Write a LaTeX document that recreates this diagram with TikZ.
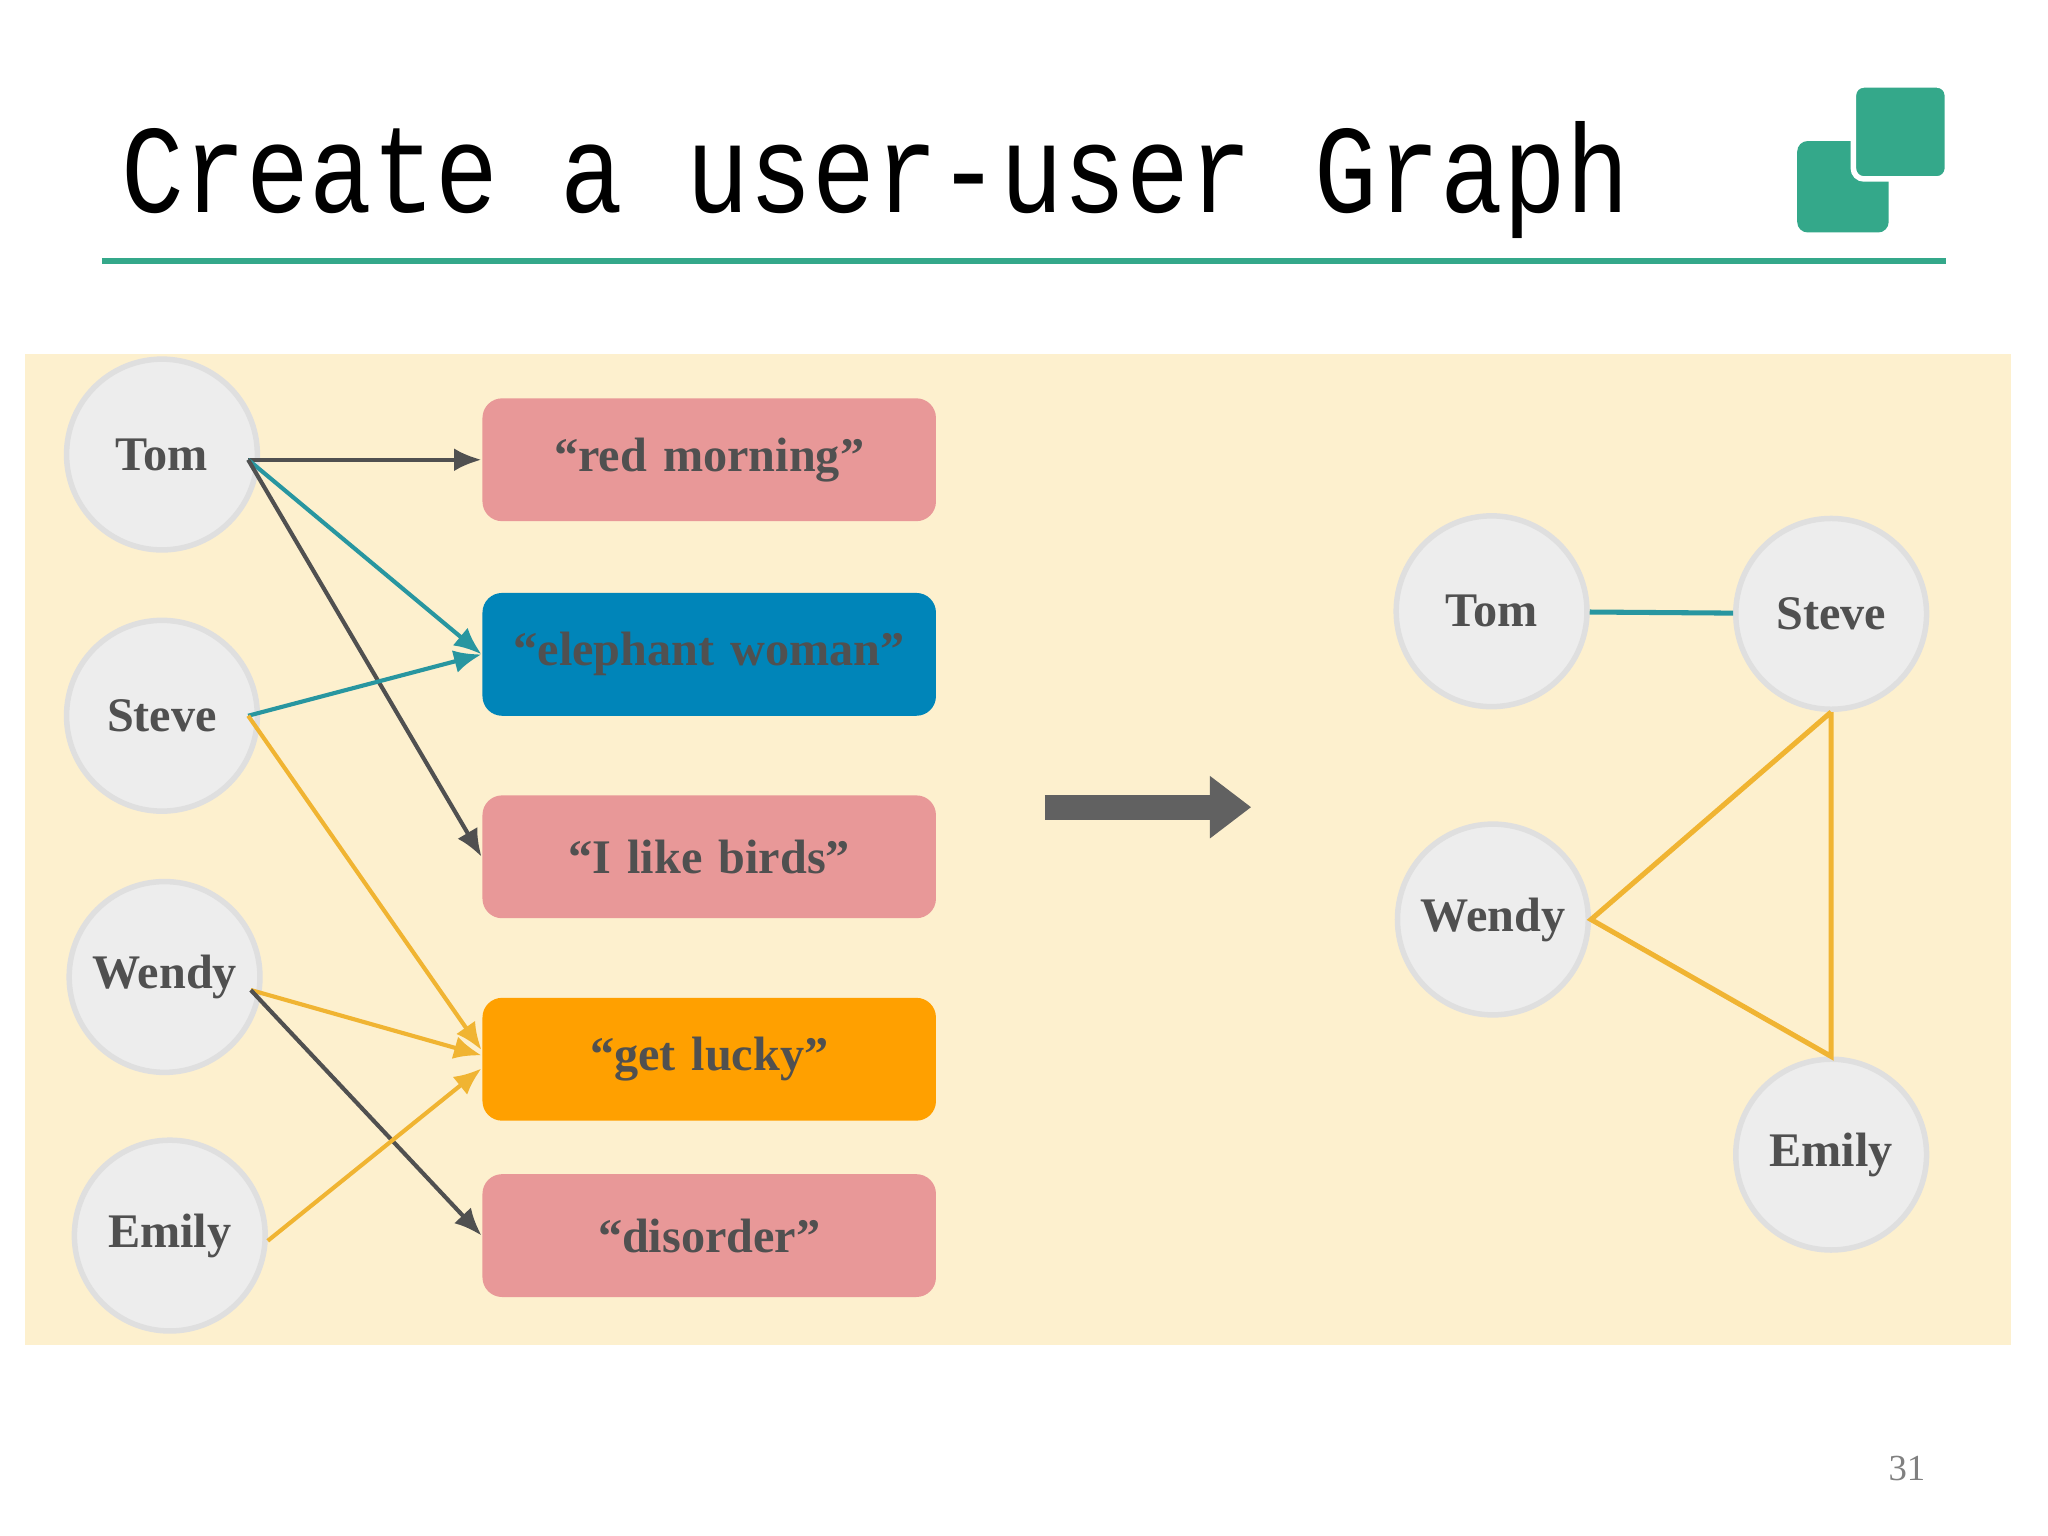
\documentclass[tikz,border=0pt]{standalone}
\usepackage{fontspec}
\setmainfont{Liberation Serif}
\newfontfamily\mono{Liberation Mono}
\usetikzlibrary{arrows.meta}
\definecolor{teal1}{RGB}{52,168,138}
\definecolor{panel}{RGB}{253,240,206}
\definecolor{pinkb}{RGB}{232,152,152}
\definecolor{blueb}{RGB}{0,133,185}
\definecolor{orangeb}{RGB}{255,160,0}
\definecolor{darkg}{RGB}{80,80,80}
\definecolor{edgeteal}{RGB}{40,150,160}
\definecolor{edgeor}{RGB}{240,180,50}
\begin{document}
\begin{tikzpicture}[x=0.01cm,y=-0.01cm,
 user/.style={circle,minimum size=1.46cm,fill=gray!14,draw=gray!25,line width=1.2pt,text=darkg,font=\bfseries\fontsize{10.5}{10.5}\selectfont,inner sep=0pt},
 box/.style={rounded corners=0.15cm,minimum width=3.47cm,minimum height=0.94cm,text=darkg,font=\bfseries\fontsize{10.5}{10.5}\selectfont,inner sep=0pt,text width=3.4cm,align=center},
 arr/.style={line width=0.9pt,-{Latex[length=6pt,width=5pt]}},
 ln/.style={line width=1.1pt}]
\useasboundingbox (0,0) rectangle (1568,1176);
\fill[white] (0,0) rectangle (1568,1176);
\node[anchor=base west,inner sep=0pt,font=\mono\fontsize{22.8}{22.8}\selectfont] (title) at (92,163) {\scalebox{1}[1.2]{Create a user-user Graph}};
\draw[teal1,line width=1.2pt] (78,200) -- (1490,200);
\fill[teal1,rounded corners=0.08cm] (1376,108) rectangle (1446,178);
\filldraw[teal1,draw=white,line width=1.2pt,rounded corners=0.08cm] (1419,65) rectangle (1491,137);
\fill[panel] (19,271) rectangle (1540,1030);
\node[user] (tom) at (124,348) {Tom};
\node[user] (steve) at (124,548) {Steve};
\node[user] (wendy) at (126,748) {Wendy};
\node[user] (emily) at (130,946) {Emily};
\node[box,fill=pinkb] (red) at (543,352) {“red morning”};
\node[box,fill=blueb] (ele) at (543,501) {“elephant woman”};
\node[box,fill=pinkb] (birds) at (543,656) {“I like birds”};
\node[box,fill=orangeb] (lucky) at (543,811) {“get lucky”};
\node[box,fill=pinkb] (dis) at (543,946) {“disorder”};
\draw[arr,darkg] (190,352) -- (red.west);
\draw[arr,edgeteal] (190,352) -- (ele.west);
\draw[arr,darkg] (190,352) -- (birds.west);
\draw[arr,edgeteal] (190,548) -- (ele.west);
\draw[arr,edgeor] (190,548) -- ([yshift=0.07cm]lucky.west);
\draw[arr,edgeor] (192,758) -- ([yshift=0.03cm]lucky.west);
\draw[arr,darkg] (192,758) -- (dis.west);
\draw[arr,edgeor] (205,950) -- ([yshift=-0.07cm]lucky.west);
\coordinate (a1) at (800,618); \coordinate (a2) at (958,618);
\draw[line width=5.5pt,darkg!90,-{Triangle[length=9pt,width=13pt]}] (a1) -- (a2);
\node[user] (tom2) at (1142,468) {Tom};
\node[user] (steve2) at (1402,470) {Steve};
\node[user] (wendy2) at (1143,704) {Wendy};
\node[user] (emily2) at (1402,884) {Emily};
\draw[ln,edgeteal] (tom2) -- (steve2);
\draw[ln,edgeor] (steve2.south) -- (wendy2.east) -- (emily2.north) -- (steve2.south);
\node[text=gray,font=\fontsize{8}{8}\selectfont] (pg) at (1460,1124) {31};
\end{tikzpicture}
\end{document}
